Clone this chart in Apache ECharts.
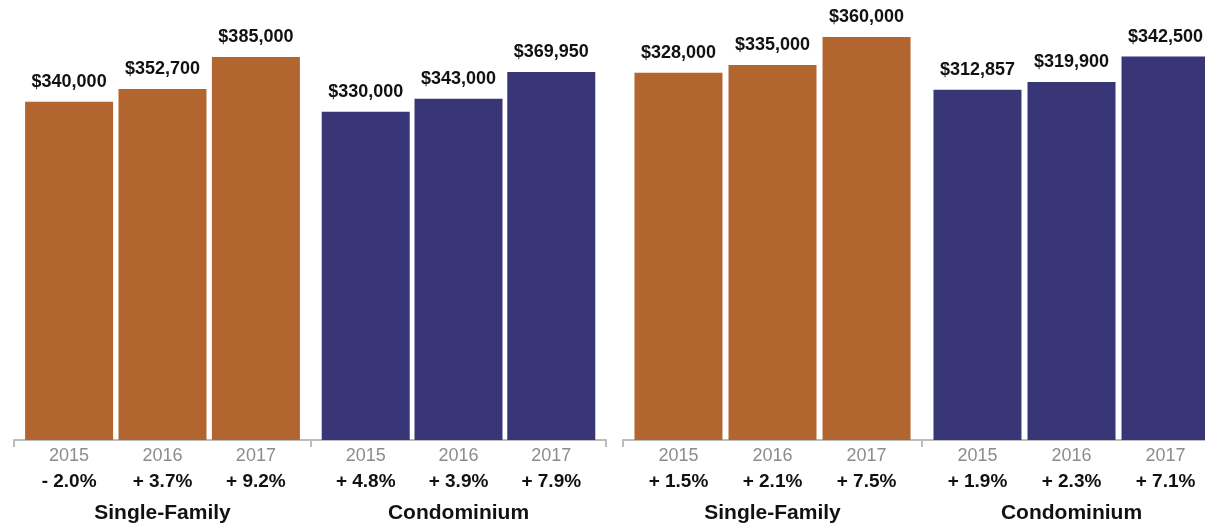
<!DOCTYPE html>
<html>
<head>
<meta charset="utf-8">
<style>
  html, body { margin: 0; padding: 0; background: #ffffff; }
  #chart { width: 1205px; height: 527px; }
</style>
<script src="https://cdn.jsdelivr.net/npm/echarts@6/dist/echarts.min.js"></script>
</head>
<body>
<div id="chart"></div>
<script>
// Median sale prices by property type, two markets, 2015–2017
const years = ['2015', '2016', '2017'];
const groupNames = ['Single-Family', 'Condominium', 'Single-Family', 'Condominium'];

const marketASingleFamily = [340000, 352700, 385000];
const marketASingleFamilyChange = [-2.0, 3.7, 9.2];
const marketACondo = [330000, 343000, 369950];
const marketACondoChange = [4.8, 3.9, 7.9];

const marketBSingleFamily = [328000, 335000, 360000];
const marketBSingleFamilyChange = [1.5, 2.1, 7.5];
const marketBCondo = [312857, 319900, 342500];
const marketBCondoChange = [1.9, 2.3, 7.1];

const FONT = '"Liberation Sans", Arial, Helvetica, sans-serif';
const ORANGE = '#b3652f';
const NAVY = '#383677';

const groups = [
  { values: marketASingleFamily, change: marketASingleFamilyChange, color: ORANGE, left: 14,  width: 297, panel: 0 },
  { values: marketACondo,        change: marketACondoChange,        color: NAVY,   left: 311, width: 295, panel: 0 },
  { values: marketBSingleFamily, change: marketBSingleFamilyChange, color: ORANGE, left: 623, width: 299, panel: 1 },
  { values: marketBCondo,        change: marketBCondoChange,        color: NAVY,   left: 922, width: 299, panel: 1 }
];

// each market gets its own vertical scale
const panelMax = [400000, 360000];
const panelTop = [42, 37];

const X_MIN = -0.59, X_MAX = 2.59;

function fmtChange(c) {
  return (c < 0 ? '- ' : '+ ') + Math.abs(c).toFixed(1) + '%';
}
function fmtPrice(v) {
  return '$' + v.toLocaleString('en-US');
}

const grid = [], xAxis = [], yAxis = [], series = [];

groups.forEach((g, i) => {
  grid.push({
    left: g.left, width: g.width,
    top: panelTop[g.panel], bottom: 87,
    containLabel: false,
    outerBoundsMode: 'none'
  });
  xAxis.push({
    type: 'value',
    gridIndex: i,
    min: X_MIN, max: X_MAX,
    splitLine: { show: false },
    axisLine: { show: true, lineStyle: { color: '#bdbdbd', width: 2 } },
    axisTick: { show: true, customValues: [X_MIN, X_MAX], length: 7, lineStyle: { color: '#bdbdbd', width: 2 } },
    axisLabel: {
      show: true,
      customValues: [0, 1, 2],
      margin: 4,
      formatter: (val) => {
        const k = Math.round(val);
        return '{y|' + years[k] + '}\n{p|' + fmtChange(g.change[k]) + '}';
      },
      rich: {
        y: { fontFamily: FONT, fontSize: 18, color: '#8c8c8c', lineHeight: 25 },
        p: { fontFamily: FONT, fontSize: 19, fontWeight: 'bold', color: '#111111', lineHeight: 25 }
      }
    },
    name: groupNames[i],
    nameLocation: 'middle',
    nameGap: 63,
    nameTextStyle: { fontFamily: FONT, fontSize: 21, fontWeight: 'bold', color: '#111111' }
  });
  yAxis.push({
    type: 'value',
    gridIndex: i,
    min: 0, max: panelMax[g.panel],
    show: false,
    splitLine: { show: false }
  });
  series.push({
    type: 'bar',
    xAxisIndex: i,
    yAxisIndex: i,
    barWidth: 88,
    itemStyle: { color: g.color },
    data: g.values.map((v, k) => [k, v]),
    label: {
      show: true,
      position: 'top',
      distance: 11,
      fontFamily: FONT,
      fontSize: 18,
      fontWeight: 'bold',
      color: '#111111',
      formatter: (p) => fmtPrice(p.value[1])
    },
    animation: false
  });
});

const chart = echarts.init(document.getElementById('chart'), null, { renderer: 'canvas' });
chart.setOption({
  animation: false,
  backgroundColor: '#ffffff',
  grid, xAxis, yAxis, series
});
</script>
</body>
</html>
